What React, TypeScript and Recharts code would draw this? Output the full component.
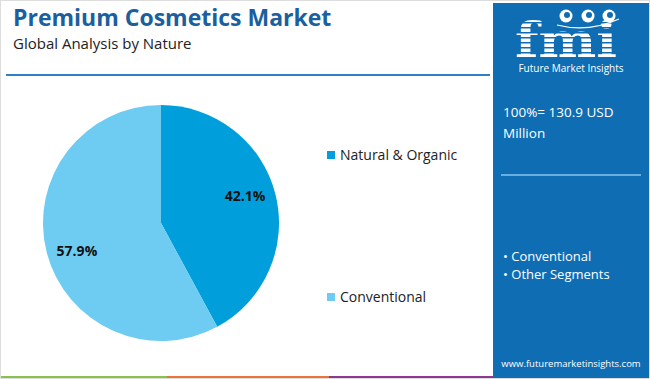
import React from "react";
import { PieChart, Pie, Cell } from "recharts";

const segments = ["Natural & Organic", "Conventional"];
const shares = [42.1, 57.9];
const COLORS = ["#009fdb", "#6ecbf1"];
const panelSegments = ["Conventional", "Other Segments"];
const totalLines = ["100%= 130.9 USD", "Million"];

const data = segments.map((name, i) => ({ name, value: shares[i] }));

const FONT = "'Open Sans', 'Noto Sans', sans-serif";
const PANEL = "#0f6db3";
const RADIAN = Math.PI / 180;

function SliceLabel(props: any) {
  const { cx, cy, midAngle, outerRadius, value } = props;
  // labels sit a touch counter-clockwise of the slice middle, as in the source
  const a = (midAngle + 4) * RADIAN;
  const r = outerRadius * 0.75;
  const x = cx + r * Math.cos(-a);
  const y = cy + r * Math.sin(-a);
  return (
    <text
      x={x}
      y={y}
      fill="#111"
      textAnchor="middle"
      dominantBaseline="central"
      style={{ fontFamily: FONT, fontWeight: 700, fontSize: 14 }}
    >
      {value.toFixed(1)}%
    </text>
  );
}

function Logo() {
  const stripes = [];
  for (let y = 14; y < 58; y += 5) stripes.push(y);
  return (
    <svg width={156} height={74} style={{ position: "absolute", left: 0, top: 0 }}>
      <text
        x={22}
        y={54}
        textLength={102}
        lengthAdjust="spacingAndGlyphs"
        fill="#fff"
        style={{ fontFamily: "'DejaVu Serif', serif", fontWeight: 700, fontSize: 48 }}
      >
        fmi
      </text>
      {stripes.map((y) => (
        <rect key={y} x={18} y={y} width={112} height={1.5} fill={PANEL} />
      ))}
      {[73, 95, 116].map((x) => (
        <g key={x}>
          <circle cx={x} cy={13} r={6.5} fill="#fff" />
          <circle cx={x + 1} cy={12} r={3} fill={PANEL} />
        </g>
      ))}
      <path d="M64 22 Q95 30 126 16" stroke="#fff" strokeWidth={1.2} fill="none" />
      <text x={78} y={69} textAnchor="middle" fill="#fff" style={{ fontFamily: FONT, fontSize: 10 }}>
        Future Market Insights
      </text>
    </svg>
  );
}

export default function App() {
  return (
    <div
      style={{
        position: "absolute",
        left: 0,
        top: 0,
        width: 650,
        height: 379,
        background: "#fff",
        overflow: "hidden",
        fontFamily: FONT,
        boxSizing: "border-box",
        border: "1px solid #ddd",
      }}
    >
      <div style={{ position: "absolute", left: 12, top: 3, fontSize: 23, lineHeight: "26px", fontWeight: 700, color: "#1b5f9e" }}>
        Premium Cosmetics Market
      </div>
      <div style={{ position: "absolute", left: 12, top: 34, fontSize: 15, lineHeight: "17px", color: "#222" }}>
        Global Analysis by Nature
      </div>
      <div style={{ position: "absolute", left: 5, top: 73, width: 484, height: 2, background: "#2f80c2" }} />

      <div style={{ position: "absolute", left: 0, top: 0 }}>
        <PieChart width={320} height={370} margin={{ top: 0, right: 0, bottom: 0, left: 0 }}>
          <Pie
            data={data}
            dataKey="value"
            nameKey="name"
            cx={160}
            cy={222}
            outerRadius={118}
            startAngle={90}
            endAngle={-270}
            stroke="none"
            label={SliceLabel}
            labelLine={false}
            isAnimationActive={false}
          >
            {data.map((_, i) => (
              <Cell key={i} fill={COLORS[i]} />
            ))}
          </Pie>
        </PieChart>
      </div>

      {/* legend */}
      {data.map((d, i) => (
        <div
          key={d.name}
          style={{
            position: "absolute",
            left: 326,
            top: 145 + i * 142,
            display: "flex",
            alignItems: "center",
            gap: 5,
            fontSize: 14,
            lineHeight: "18px",
            color: "#222",
            whiteSpace: "nowrap",
          }}
        >
          <span style={{ width: 8, height: 8, background: COLORS[i], display: "inline-block" }} />
          {d.name}
        </div>
      ))}

      {/* bottom colour strip */}
      <div style={{ position: "absolute", left: 0, top: 375, width: 166, height: 4, background: "#8cc04b" }} />
      <div style={{ position: "absolute", left: 166, top: 375, width: 162, height: 4, background: "#e8743b" }} />
      <div style={{ position: "absolute", left: 328, top: 375, width: 164, height: 4, background: "#8b3a8f" }} />

      {/* right panel */}
      <div style={{ position: "absolute", left: 492, top: 2, width: 156, height: 375, background: PANEL }}>
        <Logo />
        <div style={{ position: "absolute", left: 10, top: 99, width: 140, color: "#fff", fontSize: 13.5, lineHeight: "21px" }}>
          {totalLines.map((t) => (
            <div key={t}>{t}</div>
          ))}
        </div>
        <div style={{ position: "absolute", left: 8, top: 171, width: 140, height: 2, background: "#6aaee0" }} />
        <div style={{ position: "absolute", left: 10, top: 244, color: "#fff", fontSize: 13, lineHeight: "18px" }}>
          {panelSegments.map((s) => (
            <div key={s}>• {s}</div>
          ))}
        </div>
        <div style={{ position: "absolute", left: 0, top: 355, width: 156, textAlign: "center", color: "#fff", fontSize: 9.5, lineHeight: "12px" }}>
          www.futuremarketinsights.com
        </div>
      </div>
    </div>
  );
}
